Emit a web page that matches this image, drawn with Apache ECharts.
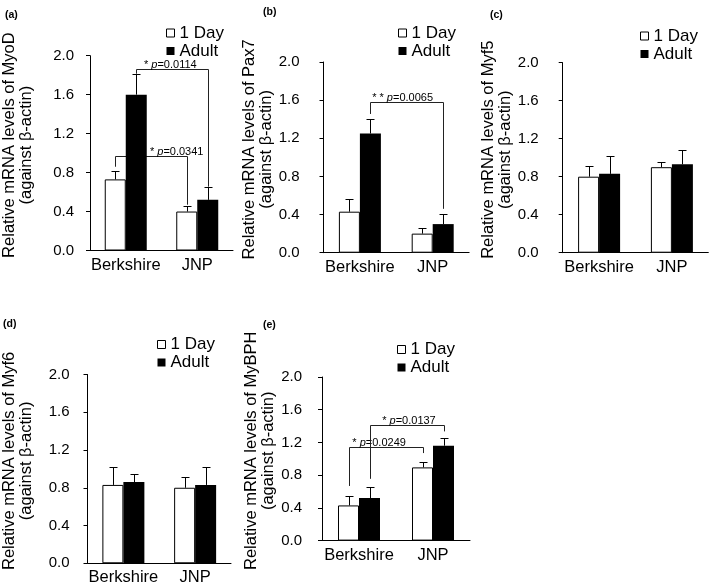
<!DOCTYPE html>
<html>
<head>
<meta charset="utf-8">
<script src="https://cdn.jsdelivr.net/npm/echarts@6/dist/echarts.min.js"></script>
<style>
html, body { margin: 0; padding: 0; background: #fff; }
#chart { width: 709px; height: 588px; }
</style>
</head>
<body>
<div id="chart"></div>
<script>
// ---------------- DATA ----------------
const categories = ['Berkshire', 'JNP'];
const groupNames = ['1 Day', 'Adult'];
const panelLabels = ['(a)', '(b)', '(c)', '(d)', '(e)'];
const genes = ['MyoD', 'Pax7', 'Myf5', 'Myf6', 'MyBPH'];
const yMin = 0.0, yMax = 2.0, yStep = 0.4;

// (a) MyoD
const myoD1Day = [0.73, 0.40];
const myoDAdult = [1.60, 0.52];
const myoD1DayErr = [0.09, 0.06];
const myoDAdultErr = [0.21, 0.13];
// (b) Pax7
const pax71Day = [0.43, 0.20];
const pax7Adult = [1.25, 0.30];
const pax71DayErr = [0.13, 0.06];
const pax7AdultErr = [0.15, 0.11];
// (c) Myf5
const myf51Day = [0.80, 0.90];
const myf5Adult = [0.83, 0.93];
const myf51DayErr = [0.11, 0.06];
const myf5AdultErr = [0.19, 0.15];
// (d) Myf6
const myf61Day = [0.83, 0.80];
const myf6Adult = [0.86, 0.83];
const myf61DayErr = [0.19, 0.11];
const myf6AdultErr = [0.09, 0.19];
// (e) MyBPH
const mybph1Day = [0.43, 0.895];
const mybphAdult = [0.52, 1.16];
const mybph1DayErr = [0.12, 0.06];
const mybphAdultErr = [0.13, 0.09];

// significance brackets: from/to = [categoryIndex, groupIndex]; ends & top in axis units
const myoDBrackets = [
  { from: [0, 1], to: [1, 1], ends: [1.815, 0.655], top: 1.86, stars: '*', p: '0.0114' },
  { from: [0, 0], to: [1, 0], ends: [0.86, 0.47], top: 0.97, stars: '*', p: '0.0341' }
];
const pax7Brackets = [
  { from: [0, 1], to: [1, 1], ends: [1.455, 0.46], top: 1.576, stars: '* *', p: '0.0065' }
];
const myf5Brackets = [];
const myf6Brackets = [];
const mybphBrackets = [
  { from: [0, 0], to: [1, 0], ends: [0.668, 1.07], top: 1.142, stars: '*', p: '0.0249' },
  { from: [0, 1], to: [1, 1], ends: [0.755, 1.335], top: 1.412, stars: '*', p: '0.0137' }
];

const panels = [
  { d1: myoD1Day, ad: myoDAdult, e1: myoD1DayErr, ea: myoDAdultErr, br: myoDBrackets },
  { d1: pax71Day, ad: pax7Adult, e1: pax71DayErr, ea: pax7AdultErr, br: pax7Brackets },
  { d1: myf51Day, ad: myf5Adult, e1: myf51DayErr, ea: myf5AdultErr, br: myf5Brackets },
  { d1: myf61Day, ad: myf6Adult, e1: myf61DayErr, ea: myf6AdultErr, br: myf6Brackets },
  { d1: mybph1Day, ad: mybphAdult, e1: mybph1DayErr, ea: mybphAdultErr, br: mybphBrackets }
];

// ---------------- LAYOUT / STYLE ----------------
const FONT = '"Liberation Sans", Arial, Helvetica, sans-serif';
const BAR_W = 21;
const gridBoxes = [
  { left: 87, top: 55.7, width: 146, height: 194.8 },
  { left: 323.5, top: 62, width: 145.6, height: 190.7 },
  { left: 562.7, top: 62.7, width: 145.6, height: 190 },
  { left: 86, top: 374.5, width: 145, height: 189.5 },
  { left: 322, top: 377, width: 148, height: 189.7 }
];
const tickLabelMargins = [16, 24, 24, 18, 20];
const nameGaps = [55, 46.5, 45.5, 52.5, 44.5];
const legendPos = [
  { left: 166, top: 24.5 },
  { left: 398, top: 24.5 },
  { left: 640, top: 27.5 },
  { left: 157, top: 336 },
  { left: 397, top: 341 }
];
const panelLabelPos = [
  { left: 5, top: 10 },
  { left: 263, top: 7 },
  { left: 490, top: 9.5 },
  { left: 3, top: 319 },
  { left: 263, top: 320 }
];
const bracketTextFrac = [[0.47, 0.85], [0.44], [], [], [0.40, 0.52]];

function errRender(offset) {
  return function (params, api) {
    const base = api.coord([api.value(0), api.value(1)]);
    const tip = api.coord([api.value(0), api.value(2)]);
    const x = Math.round(base[0] + offset) + 0.5;
    const yt = Math.round(tip[1]) + 0.5;
    return {
      type: 'group',
      children: [
        { type: 'line', shape: { x1: x, y1: base[1], x2: x, y2: yt }, style: { stroke: '#000', lineWidth: 1 } },
        { type: 'line', shape: { x1: x - 4, y1: yt, x2: x + 4, y2: yt }, style: { stroke: '#000', lineWidth: 1 } }
      ]
    };
  };
}

function bracketRender(list, fracs) {
  return function (params, api) {
    const b = list[params.dataIndex];
    const off = s => (s === 0 ? -BAR_W / 2 : BAR_W / 2);
    const x1 = Math.round(api.coord([b.from[0], b.top])[0] + off(b.from[1])) + 0.5;
    const x2 = Math.round(api.coord([b.to[0], b.top])[0] + off(b.to[1])) + 0.5;
    const yT = Math.round(api.coord([b.from[0], b.top])[1]) + 0.5;
    const y1 = api.coord([b.from[0], b.ends[0]])[1];
    const y2 = api.coord([b.to[0], b.ends[1]])[1];
    const f = fracs[params.dataIndex] != null ? fracs[params.dataIndex] : 0.5;
    const tx = x1 + (x2 - x1) * f;
    return {
      type: 'group',
      children: [
        {
          type: 'polyline',
          shape: { points: [[x1, y1], [x1, yT], [x2, yT], [x2, y2]] },
          style: { stroke: '#222', lineWidth: 1, fill: null }
        },
        {
          type: 'text',
          x: tx,
          y: yT + 1,
          style: {
            text: '{s|' + b.stars + ' }{i|p}{s|=' + b.p + '}',
            align: 'center',
            verticalAlign: 'bottom',
            rich: {
              s: { fontSize: 11, fontFamily: FONT, fill: '#000' },
              i: { fontSize: 11, fontFamily: FONT, fontStyle: 'italic', fill: '#000' }
            }
          }
        }
      ]
    };
  };
}

const option = {
  animation: false,
  backgroundColor: '#fff',
  textStyle: { fontFamily: FONT, color: '#000' },
  title: panelLabels.map((t, i) => ({
    text: t,
    left: panelLabelPos[i].left,
    top: panelLabelPos[i].top,
    padding: 0,
    textStyle: { fontSize: 10.5, fontWeight: 'bold', fontFamily: FONT, color: '#000' }
  })),
  legend: legendPos.map(p => ({
    orient: 'vertical',
    left: p.left,
    top: p.top,
    padding: 0,
    icon: 'rect',
    itemWidth: 8,
    itemHeight: 8,
    itemGap: 1,
    selectedMode: false,
    textStyle: { fontSize: 17, lineHeight: 15, fontFamily: FONT, color: '#000' },
    data: [
      { name: groupNames[0], itemStyle: { color: '#fff', borderColor: '#000', borderWidth: 1 } },
      { name: groupNames[1], itemStyle: { color: '#000', borderWidth: 0 } }
    ]
  })),
  grid: gridBoxes.map(g => ({ left: g.left, top: g.top, width: g.width, height: g.height, containLabel: false })),
  xAxis: gridBoxes.map((g, i) => ({
    type: 'category',
    gridIndex: i,
    data: categories,
    axisLine: { lineStyle: { color: '#000', width: 1 } },
    axisTick: { show: false },
    axisLabel: { color: '#000', fontSize: 16.5, fontFamily: FONT, margin: 6, interval: 0, hideOverlap: false }
  })),
  yAxis: gridBoxes.map((g, i) => ({
    type: 'value',
    gridIndex: i,
    min: yMin,
    max: yMax,
    interval: yStep,
    name: 'Relative mRNA levels of ' + genes[i] + '\n(against β-actin)',
    nameLocation: 'middle',
    nameGap: nameGaps[i],
    nameTextStyle: { fontSize: 16.5, lineHeight: 17, fontFamily: FONT, color: '#000', padding: [0, 0, 0, 16] },
    splitLine: { show: false },
    axisLine: { show: true, lineStyle: { color: '#000', width: 1 } },
    axisTick: { show: true, inside: false, length: 4, lineStyle: { color: '#000' } },
    axisLabel: { color: '#000', fontSize: 15, fontFamily: FONT, margin: tickLabelMargins[i], formatter: v => v.toFixed(1) }
  })),
  series: []
};

panels.forEach((p, i) => {
  option.series.push({
    name: groupNames[0], type: 'bar', xAxisIndex: i, yAxisIndex: i,
    data: p.d1, barWidth: BAR_W, barGap: '0%', z: 3,
    itemStyle: { color: '#fff', borderColor: '#000', borderWidth: 1 }
  });
  option.series.push({
    name: groupNames[1], type: 'bar', xAxisIndex: i, yAxisIndex: i,
    data: p.ad, barWidth: BAR_W, barGap: '0%', z: 3,
    itemStyle: { color: '#000' }
  });
  option.series.push({
    type: 'custom', xAxisIndex: i, yAxisIndex: i, z: 4, silent: true,
    renderItem: errRender(-BAR_W / 2),
    data: p.d1.map((v, k) => [k, v, v + p.e1[k]])
  });
  option.series.push({
    type: 'custom', xAxisIndex: i, yAxisIndex: i, z: 4, silent: true,
    renderItem: errRender(BAR_W / 2),
    data: p.ad.map((v, k) => [k, v, v + p.ea[k]])
  });
  if (p.br.length) {
    option.series.push({
      type: 'custom', xAxisIndex: i, yAxisIndex: i, z: 1, silent: true, clip: false,
      renderItem: bracketRender(p.br, bracketTextFrac[i]),
      data: p.br.map(b => [b.from[0], b.top])
    });
  }
});

const chart = echarts.init(document.getElementById('chart'), null, { renderer: 'canvas' });
chart.setOption(option);
</script>
</body>
</html>
